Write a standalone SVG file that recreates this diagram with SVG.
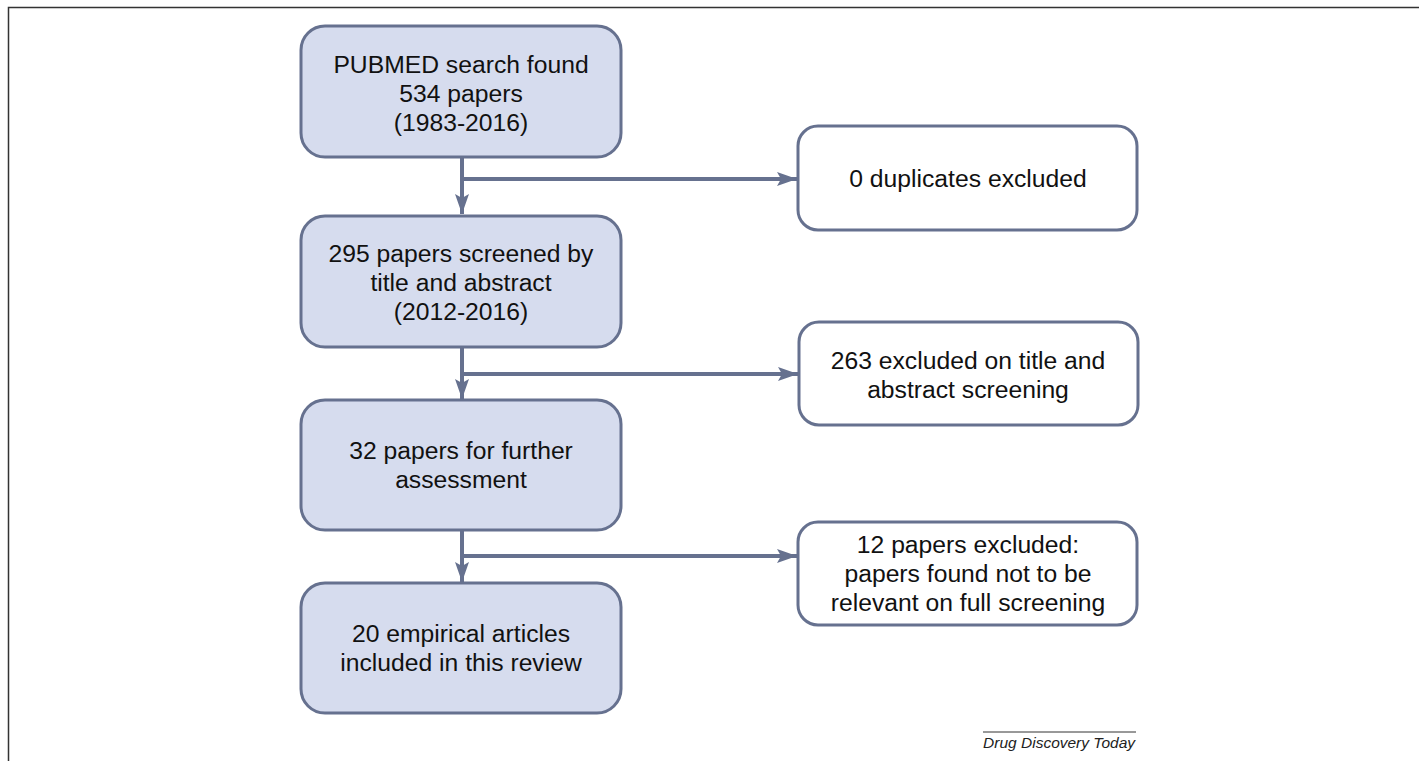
<svg xmlns="http://www.w3.org/2000/svg" width="1419" height="761" viewBox="0 0 1419 761">
<style>
.main{fill:#d6dcee;stroke:#66718f;stroke-width:3}
.side{fill:#ffffff;stroke:#66718f;stroke-width:3}
.t{font-family:"Liberation Sans",Arial,sans-serif;font-size:24.7px;fill:#111;text-anchor:middle}
.c{fill:none;stroke:#66718f;stroke-width:4}
.ft{font-family:"Liberation Sans",Arial,sans-serif;font-size:15.5px;font-style:italic;fill:#222;text-anchor:end}
</style>
<defs>
<marker id="ah" markerUnits="userSpaceOnUse" markerWidth="22" markerHeight="14" refX="20" refY="7" orient="auto">
<path d="M0,0 L20,7 L0,14 L4,7 Z" fill="#66718f"/>
</marker>
</defs>
<rect width="1419" height="761" fill="#ffffff"/>
<path d="M8.5,761 V7.5 H1419" fill="none" stroke="#333" stroke-width="1.5"/>
<g id="connectors">
<line class="c" x1="462" y1="157" x2="462" y2="214" marker-end="url(#ah)"/>
<line class="c" x1="462" y1="179" x2="797" y2="179" marker-end="url(#ah)"/>
<line class="c" x1="462" y1="347" x2="462" y2="399" marker-end="url(#ah)"/>
<line class="c" x1="462" y1="374" x2="798" y2="374" marker-end="url(#ah)"/>
<line class="c" x1="462" y1="530" x2="462" y2="582" marker-end="url(#ah)"/>
<line class="c" x1="462" y1="556" x2="797" y2="556" marker-end="url(#ah)"/>
</g>
<g id="n1">
<rect class="main" x="301" y="26" width="320" height="131" rx="24"/>
<text class="t" x="461" y="73">PUBMED search found</text>
<text class="t" x="461" y="102">534 papers</text>
<text class="t" x="461" y="131">(1983-2016)</text>
</g>
<g id="n2">
<rect class="main" x="301" y="216" width="320" height="131" rx="24"/>
<text class="t" x="461" y="262">295 papers screened by</text>
<text class="t" x="461" y="291">title and abstract</text>
<text class="t" x="461" y="320">(2012-2016)</text>
</g>
<g id="n3">
<rect class="main" x="301" y="400" width="320" height="130" rx="24"/>
<text class="t" x="461" y="459">32 papers for further</text>
<text class="t" x="461" y="488">assessment</text>
</g>
<g id="n4">
<rect class="main" x="301" y="583" width="320" height="130" rx="24"/>
<text class="t" x="461" y="642">20 empirical articles</text>
<text class="t" x="461" y="671">included in this review</text>
</g>
<g id="s1">
<rect class="side" x="798" y="126" width="339" height="104" rx="20"/>
<text class="t" x="968" y="187">0 duplicates excluded</text>
</g>
<g id="s2">
<rect class="side" x="799" y="322" width="339" height="103" rx="20"/>
<text class="t" x="968" y="369">263 excluded on title and</text>
<text class="t" x="968" y="398">abstract screening</text>
</g>
<g id="s3">
<rect class="side" x="798" y="522" width="339" height="103" rx="20"/>
<text class="t" x="968" y="553">12 papers excluded:</text>
<text class="t" x="968" y="582">papers found not to be</text>
<text class="t" x="968" y="611">relevant on full screening</text>
</g>
<g id="footer">
<line x1="983" y1="732" x2="1136" y2="732" stroke="#333" stroke-width="1"/>
<text class="ft" x="1135" y="748">Drug Discovery Today</text>
</g>
</svg>
